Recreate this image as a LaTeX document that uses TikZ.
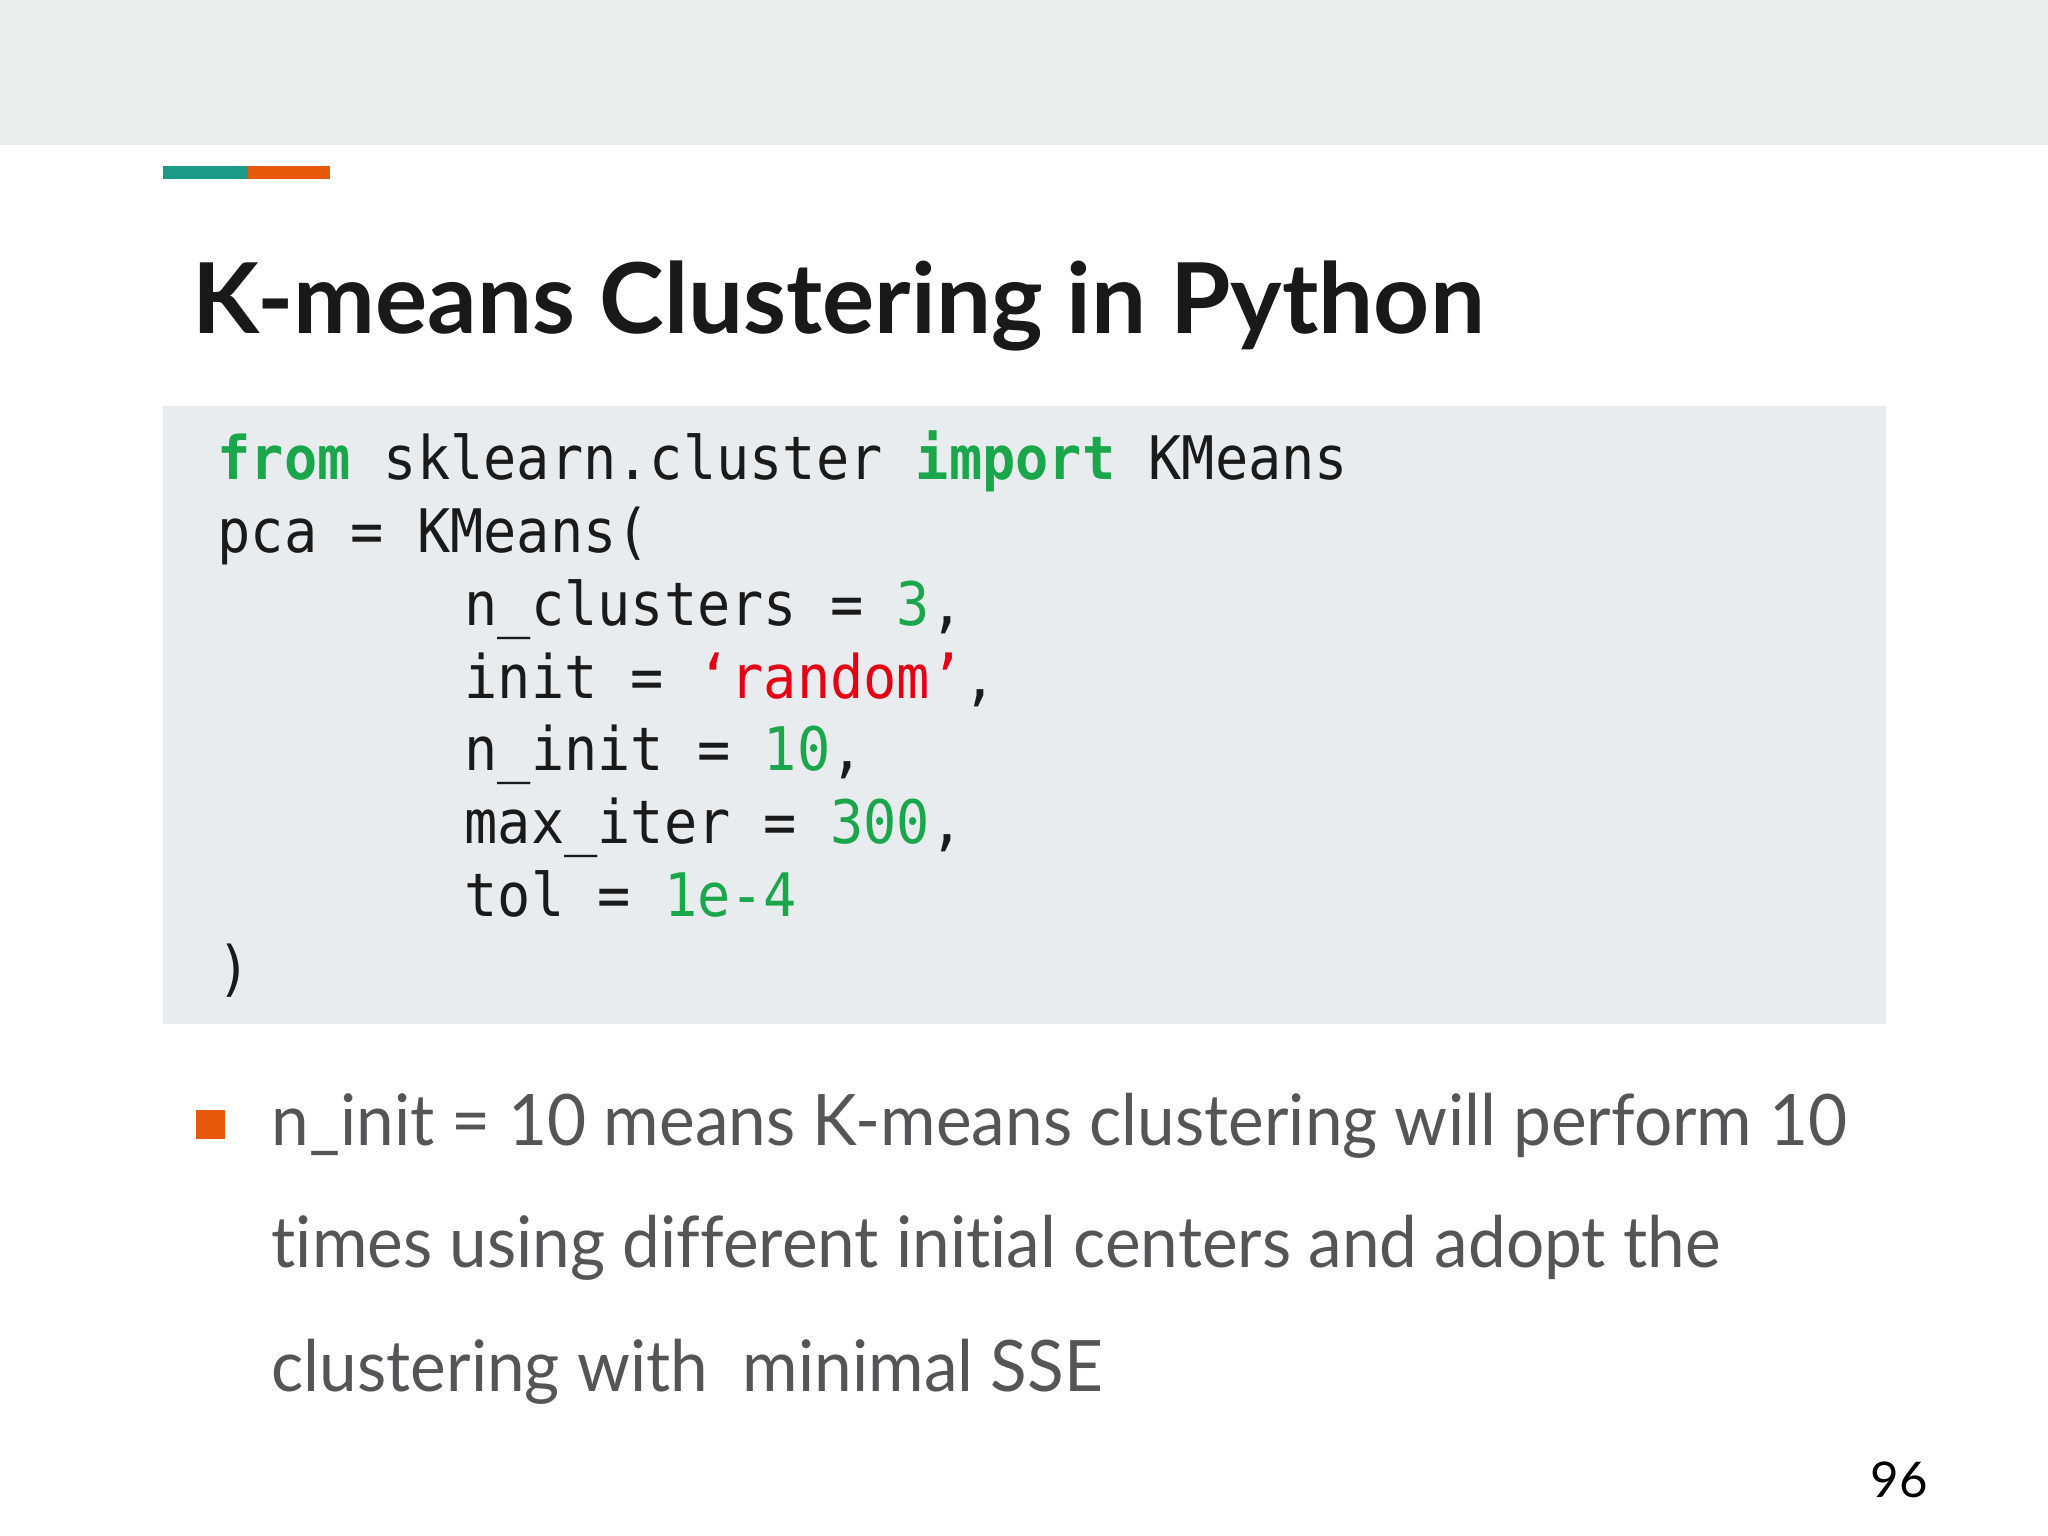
\documentclass[tikz,border=0pt]{standalone}
\usepackage{fontspec}
\setmainfont{Lato}[Ligatures=NoCommon]
\newfontfamily\bodyfont{Lato}[FakeStretch=0.95,Ligatures=NoCommon]
\newfontfamily\titlefont{Lato}
\newfontfamily\codefont{DejaVu Sans Mono}[FakeStretch=0.92]
\definecolor{bandgrey}{HTML}{E9EEEC}
\definecolor{barteal}{HTML}{1B9A88}
\definecolor{barorange}{HTML}{E8590C}
\definecolor{codebg}{HTML}{E9ECEE}
\definecolor{kwgreen}{HTML}{1AA64B}
\definecolor{strred}{HTML}{E60012}
\definecolor{bodygrey}{HTML}{555558}
\definecolor{codeink}{HTML}{1A1A1A}
\tikzset{
  codeline/.style={anchor=base west, inner sep=0pt, text=codeink, font=\codefont\fontsize{17.07pt}{20pt}\selectfont},
  bodyline/.style={anchor=base west, inner sep=0pt, text=bodygrey, font=\bodyfont\fontsize{20.2pt}{24pt}\selectfont},
}
\newcommand{\kw}[1]{{\bfseries\color{kwgreen}#1}}
\newcommand{\num}[1]{{\color{kwgreen}#1}}
\newcommand{\str}[1]{{\color{strred}#1}}
\begin{document}
\begin{tikzpicture}[x=0.01cm,y=-0.01cm]
\useasboundingbox (0,0) rectangle (2048,1536);
\fill[white] (0,0) rectangle (2048,1536);
\fill[bandgrey] (0,0) rectangle (2048,145);
\fill[barteal] (163,166) rectangle (248,179);
\fill[barorange] (248,166) rectangle (330,179);
\node[anchor=base west, inner sep=0pt, text=black!90, font=\titlefont\bfseries\fontsize{27.8pt}{31pt}\selectfont] (title) at (192,333) {K-means Clustering in Python};
\fill[codebg] (163,406) rectangle (1886,1024);
\node[codeline] (c1) at (217,479) {\kw{from} sklearn.cluster \kw{import} KMeans};
\node[codeline] (c2) at (217,552) {pca = KMeans(};
\node[codeline] (c3) at (464,625) {n\_clusters = \num{3},};
\node[codeline] (c4) at (464,698) {init = \str{‘random’},};
\node[codeline] (c5) at (464,770) {n\_init = \num{10},};
\node[codeline] (c6) at (464,843) {max\_iter = \num{300},};
\node[codeline] (c7) at (464,916) {tol = \num{1e-4}};
\node[codeline] (c8) at (217,989) {)};
\fill[barorange] (196,1110) rectangle (225,1139);
\node[bodyline] (b1) at (271,1145) {n\_init = 10 means K-means clustering will perform 10};
\node[bodyline] (b2) at (271,1267) {times using different initial centers and adopt the};
\node[bodyline] (b3) at (271,1391) {clustering with\ \ minimal SSE};
\node[anchor=base west, inner sep=0pt, text=black, font=\fontsize{14pt}{17pt}\selectfont] (pg) at (1870,1497) {96};
\end{tikzpicture}
\end{document}
